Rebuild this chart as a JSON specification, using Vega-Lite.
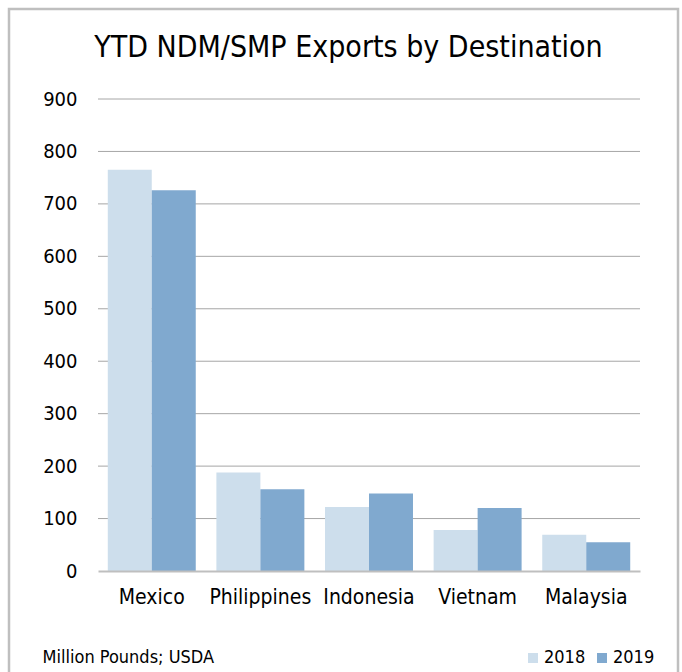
{
  "$schema": "https://vega.github.io/schema/vega-lite/v6.json",
  "width": 669,
  "height": 663,
  "autosize": {"type": "none"},
  "padding": {"left": 9, "top": 9, "right": 4, "bottom": 0},
  "config": {
    "font": "DejaVu Sans Condensed, DejaVu Sans",
    "view": {"stroke": "#bfbfbf", "strokeWidth": 2.5, "strokeDash": [1332, 669, 663]}
  },
  "title": {
    "text": "YTD NDM/SMP Exports by Destination",
    "fontSize": 30,
    "fontWeight": "normal",
    "color": "#000000",
    "anchor": "middle",
    "frame": "group",
    "baseline": "alphabetic",
    "offset": -78,
    "dx": 5
  },
  "datasets": {
    "exports": [
      {"country": "Mexico", "year": "2018", "value": 765},
      {"country": "Mexico", "year": "2019", "value": 726},
      {"country": "Philippines", "year": "2018", "value": 188},
      {"country": "Philippines", "year": "2019", "value": 156},
      {"country": "Indonesia", "year": "2018", "value": 122},
      {"country": "Indonesia", "year": "2019", "value": 148},
      {"country": "Vietnam", "year": "2018", "value": 78},
      {"country": "Vietnam", "year": "2019", "value": 120},
      {"country": "Malaysia", "year": "2018", "value": 69},
      {"country": "Malaysia", "year": "2019", "value": 55}
    ],
    "grid": [
      {"g": 100}, {"g": 200}, {"g": 300}, {"g": 400}, {"g": 500},
      {"g": 600}, {"g": 700}, {"g": 800}, {"g": 900}
    ]
  },
  "layer": [
    {
      "data": {"name": "grid"},
      "mark": {"type": "rule", "color": "#a6a6a6", "strokeWidth": 1},
      "encoding": {
        "y": {
          "field": "g", "type": "quantitative",
          "scale": {"domain": [0, 900], "range": [562, 90], "nice": false, "zero": true},
          "axis": {
            "orient": "left", "offset": -68, "domain": false, "ticks": false, "grid": false,
            "labelPadding": 0, "labelFontSize": 20, "labelColor": "#000000", "title": null,
            "values": [0, 100, 200, 300, 400, 500, 600, 700, 800, 900]
          }
        },
        "x": {"datum": 0, "type": "quantitative", "scale": {"domain": [0, 1], "range": [89, 631]}, "axis": null},
        "x2": {"datum": 1}
      }
    },
    {
      "data": {"name": "exports"},
      "mark": {"type": "bar"},
      "encoding": {
        "x": {
          "field": "country", "type": "nominal", "sort": null,
          "scale": {"range": [89, 631], "paddingInner": 0.19, "paddingOuter": 0.09},
          "axis": {
            "orient": "bottom", "offset": -101, "domain": true, "domainColor": "#bfbfbf", "domainWidth": 2,
            "ticks": false, "labelPadding": 15, "labelFontSize": 21, "labelColor": "#000000", "labelAngle": 0,
            "title": "Million Pounds; USDA", "titleX": 33, "titleY": 91, "titleAlign": "left",
            "titleBaseline": "alphabetic", "titleFontSize": 18, "titleFontWeight": "normal", "titleColor": "#000000",
            "zindex": 1
          }
        },
        "xOffset": {"field": "year", "type": "nominal", "scale": {"paddingInner": 0, "paddingOuter": 0}},
        "y": {
          "field": "value", "type": "quantitative",
          "scale": {"domain": [0, 900], "range": [562, 90], "nice": false, "zero": true},
          "axis": {
            "orient": "left", "offset": -68, "domain": false, "ticks": false, "grid": false,
            "labelPadding": 0, "labelFontSize": 20, "labelColor": "#000000", "title": null,
            "values": [0, 100, 200, 300, 400, 500, 600, 700, 800, 900]
          }
        },
        "color": {
          "field": "year", "type": "nominal",
          "scale": {"domain": ["2018", "2019"], "range": ["#cddeec", "#80a9cf"]},
          "legend": {
            "orient": "none", "legendX": 515, "legendY": 640, "direction": "horizontal",
            "title": null, "symbolType": "square", "symbolSize": 100, "symbolStrokeWidth": 0,
            "labelFontSize": 18, "labelColor": "#000000", "labelOffset": 2, "columnPadding": 7
          }
        }
      }
    }
  ],
  "resolve": {"scale": {"x": "independent"}}
}
